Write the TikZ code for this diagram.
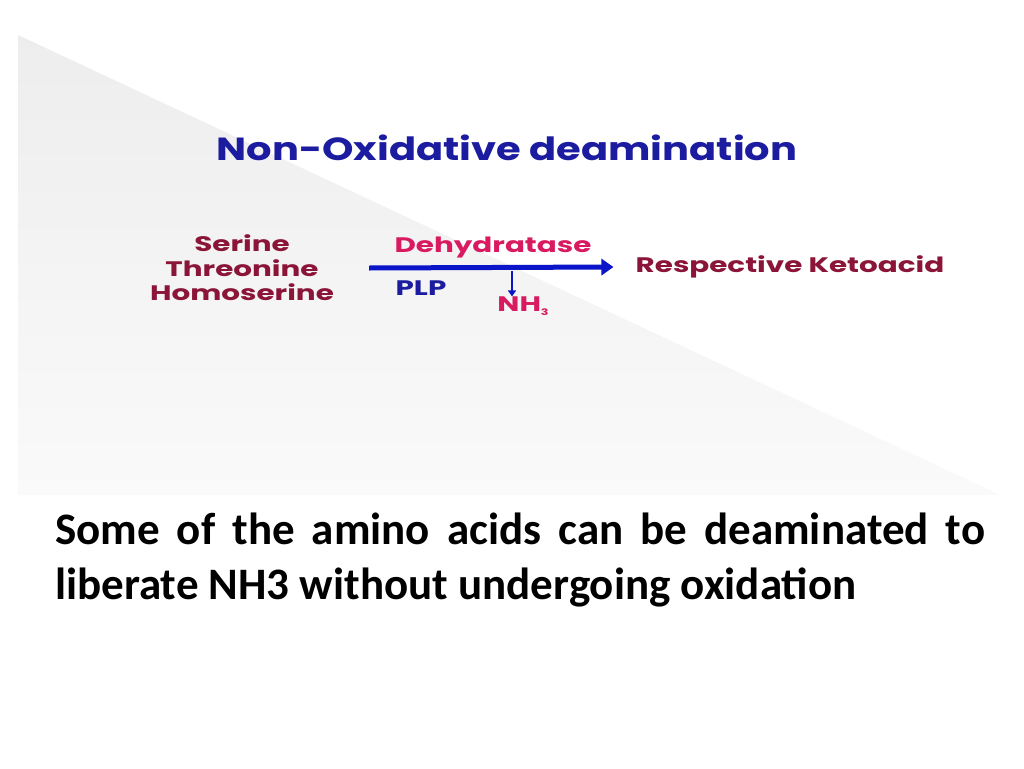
\documentclass[tikz,border=0pt]{standalone}
\usepackage{fontspec}
\setmainfont{Carlito}
\newfontfamily\geofont{Poppins}
\usetikzlibrary{arrows.meta}
\definecolor{titleblue}{HTML}{1C1CA0}
\definecolor{arrowblue}{HTML}{0A14C8}
\definecolor{maroon}{HTML}{8B1538}
\definecolor{rosered}{HTML}{D81B60}
\tikzset{
  label/.style={font=\geofont\bfseries\fontsize{21}{24.5}\selectfont,inner sep=0pt,xscale=1.4},
  main/.style={line width=5pt,arrowblue,-{Triangle[length=12pt,width=16pt]}},
  small/.style={line width=2.8pt,arrowblue,-{Triangle[length=6pt,width=8pt]}}
}
\begin{document}
\begin{tikzpicture}[x=1pt,y=-1pt]
\useasboundingbox (0,0) rectangle (1024,768);
\fill[white] (0,0) rectangle (1024,768);
\shade[top color=black!7,bottom color=black!2] (18,35) -- (1000,495) -- (18,495) -- cycle;
\node[font=\geofont\bfseries\fontsize{32}{36}\selectfont,text=titleblue,xscale=1.25] (title) at (507,148) {Non-Oxidative deamination};
\node[label,text=maroon,align=center] (subs) at (242,268) {Serine\\Threonine\\Homoserine};
\node[label,text=maroon] (product) at (790,267) {Respective Ketoacid};
\node[label,text=rosered] (enzyme) at (493,248) {Dehydratase};
\node[label,text=titleblue] (plp) at (421,288) {PLP};
\node[label,text=rosered] (nh3) at (523,306) {NH\raisebox{-4pt}{\fontsize{9}{9}\selectfont 3}};
\coordinate (split) at (512,271);
\draw[main] (subs.east) ++(35,0) -- ([xshift=-22pt]product.west);
\draw[small] (split) -- (split |- nh3.north);
\node[font=\bfseries\fontsize{45}{55}\selectfont,text width=930pt,align=justify,anchor=north west,inner sep=0pt] (note) at (55,513)
  {Some of the amino acids can be deaminated to\linebreak liberate NH3 without undergoing oxidation};
\end{tikzpicture}
\end{document}
